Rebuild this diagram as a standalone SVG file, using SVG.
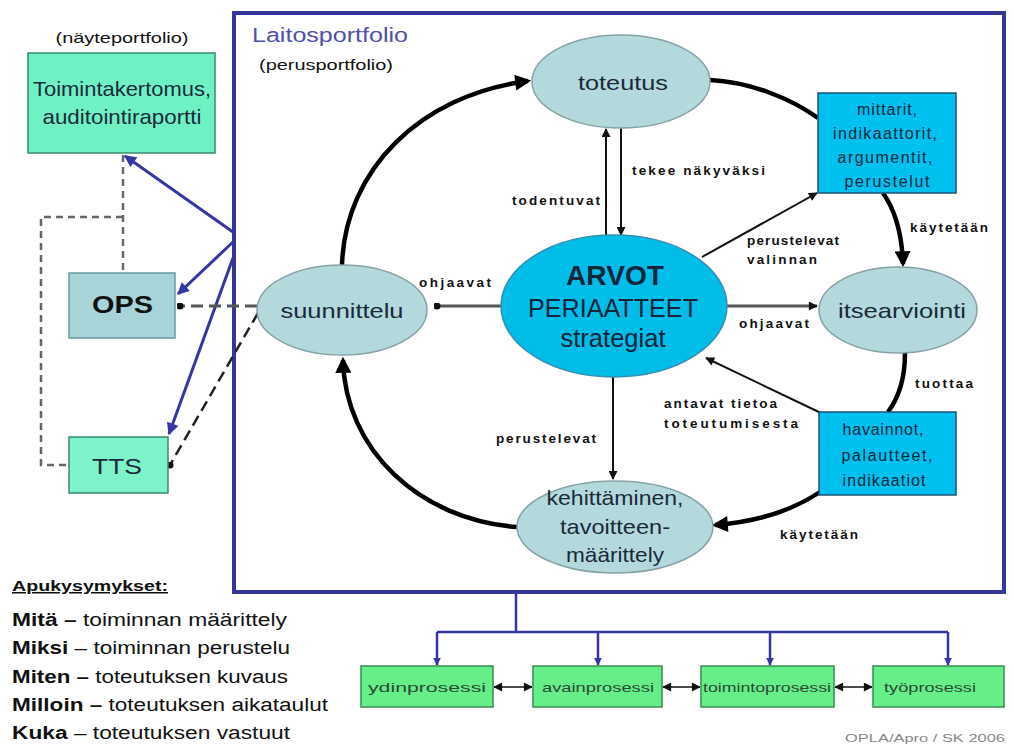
<svg xmlns="http://www.w3.org/2000/svg" width="1014" height="753" viewBox="0 0 1014 753">
<style>
text{font-family:"Liberation Sans",Arial,sans-serif;}
.lbl{font-size:13.5px;font-weight:bold;fill:#111;}
.node{font-size:21px;fill:#1a2a3a;text-anchor:middle;}
.box{font-size:16px;fill:#14283c;text-anchor:middle;}
.proc{font-size:13px;fill:#2a4a34;text-anchor:middle;}
.ell{fill:#b3d9dd;stroke:#86a2a6;stroke-width:1.5;}
.cyan{fill:#00c0f0;stroke:#1e5474;stroke-width:1.5;}
.aqua{fill:#6ef2c4;stroke:#3a8a70;stroke-width:1.5;}
.green{fill:#66ef88;stroke:#3a8a50;stroke-width:1.5;}
.thick{fill:none;stroke:#000;stroke-width:4.5;}
.thin{fill:none;stroke:#111;stroke-width:2;}
.blue{fill:none;stroke:#3535a5;stroke-width:3;}
.help{font-size:18px;fill:#111;}
</style>
<defs>
<marker id="ah" viewBox="0 0 10 10" refX="8" refY="5" markerWidth="18" markerHeight="16" markerUnits="userSpaceOnUse" orient="auto"><path d="M0,0 L10,5 L0,10 z" fill="#000"/></marker>
<marker id="as" viewBox="0 0 10 10" refX="9" refY="5" markerWidth="10" markerHeight="9" markerUnits="userSpaceOnUse" orient="auto-start-reverse"><path d="M0,0 L10,5 L0,10 z" fill="#111"/></marker>
<marker id="ab" viewBox="0 0 10 10" refX="9" refY="5" markerWidth="14" markerHeight="12" markerUnits="userSpaceOnUse" orient="auto"><path d="M0,0 L10,5 L0,10 z" fill="#3535a5"/></marker>
<marker id="abs" viewBox="0 0 10 10" refX="9" refY="5" markerWidth="8" markerHeight="8" markerUnits="userSpaceOnUse" orient="auto"><path d="M0,0 L10,5 L0,10 z" fill="#3535a5"/></marker>
<marker id="dot" viewBox="0 0 10 10" refX="5" refY="5" markerWidth="7" markerHeight="7" markerUnits="userSpaceOnUse"><circle cx="5" cy="5" r="5" fill="#111"/></marker>
</defs>
<rect width="1014" height="753" fill="#fff"/>

<!-- frame -->
<g id="frame">
<rect x="234" y="13" width="770" height="579" fill="none" stroke="#35359a" stroke-width="4"/>
<text x="252" y="42" font-size="20" fill="#5050a8" textLength="156" lengthAdjust="spacingAndGlyphs">Laitosportfolio</text>
<text x="259" y="70" font-size="15" fill="#111" textLength="134" lengthAdjust="spacingAndGlyphs">(perusportfolio)</text>
</g>

<!-- connectors -->
<g id="connectors">
<path class="thick" d="M342,265 C345,170 420,95 528,81" marker-end="url(#ah)"/>
<path class="thick" d="M710,80 C750,82 790,98 818,118"/>
<path class="thick" d="M883,193 C895,210 902,235 903,264" marker-end="url(#ah)"/>
<path class="thick" d="M905,353 C905,380 897,400 888,412"/>
<path class="thick" d="M820,492 C790,512 755,522 715,525" marker-end="url(#ah)"/>
<path class="thick" d="M517,527 C420,520 345,450 343,360" marker-end="url(#ah)"/>
<line class="thin" x1="606" y1="236" x2="606" y2="129" marker-end="url(#as)"/>
<line class="thin" x1="621" y1="128" x2="621" y2="235" marker-end="url(#as)"/>
<line class="thin" x1="702" y1="257" x2="817" y2="193" marker-end="url(#as)"/>
<line x1="501" y1="306" x2="437" y2="306" stroke="#555" stroke-width="3" marker-end="url(#dot)"/>
<line x1="727" y1="306" x2="817" y2="306" stroke="#555" stroke-width="3" marker-end="url(#as)"/>
<line class="thin" x1="821" y1="413" x2="706" y2="358" marker-end="url(#as)"/>
<line class="thin" x1="613" y1="377" x2="613" y2="479" marker-end="url(#as)"/>
<!-- left side -->
<line class="blue" x1="233" y1="232" x2="125" y2="156" marker-end="url(#ab)"/>
<line class="blue" x1="233" y1="242" x2="178" y2="294" marker-end="url(#ab)"/>
<line class="blue" x1="233" y1="258" x2="169" y2="434" marker-end="url(#ab)"/>
<path d="M123,155 L123,273 M123,217 L41,217 L41,465 L70,465" fill="none" stroke="#666" stroke-width="2.5" stroke-dasharray="7,5"/>
<line x1="257" y1="306" x2="180" y2="306" stroke="#555" stroke-width="3" stroke-dasharray="12,6" marker-end="url(#dot)"/>
<line x1="258" y1="313" x2="170" y2="465" stroke="#222" stroke-width="2.5" stroke-dasharray="11,6" marker-end="url(#dot)"/>
<!-- bottom tree -->
<path d="M516,593 L516,632 M437,632 L948,632" fill="none" stroke="#3535a5" stroke-width="2.5"/>
<line x1="437" y1="632" x2="437" y2="665" stroke="#3535a5" stroke-width="2.5" marker-end="url(#abs)"/>
<line x1="598" y1="632" x2="598" y2="665" stroke="#3535a5" stroke-width="2.5" marker-end="url(#abs)"/>
<line x1="770" y1="632" x2="770" y2="665" stroke="#3535a5" stroke-width="2.5" marker-end="url(#abs)"/>
<line x1="948" y1="632" x2="948" y2="665" stroke="#3535a5" stroke-width="2.5" marker-end="url(#abs)"/>
<line x1="494" y1="687" x2="532" y2="687" stroke="#111" stroke-width="1.5" marker-start="url(#as)" marker-end="url(#as)"/>
<line x1="663" y1="687" x2="700" y2="687" stroke="#111" stroke-width="1.5" marker-start="url(#as)" marker-end="url(#as)"/>
<line x1="835" y1="687" x2="872" y2="687" stroke="#111" stroke-width="1.5" marker-start="url(#as)" marker-end="url(#as)"/>
<!-- labels -->
<text class="lbl" x="512" y="205" textLength="88" lengthAdjust="spacing">todentuvat</text>
<text class="lbl" x="632" y="175" textLength="133" lengthAdjust="spacing">tekee näkyväksi</text>
<text class="lbl" x="747" y="245" textLength="92" lengthAdjust="spacing">perustelevat</text>
<text class="lbl" x="747" y="264" textLength="70" lengthAdjust="spacing">valinnan</text>
<text class="lbl" x="419" y="287" textLength="72" lengthAdjust="spacing">ohjaavat</text>
<text class="lbl" x="739" y="328" textLength="70" lengthAdjust="spacing">ohjaavat</text>
<text class="lbl" x="910" y="232" textLength="78" lengthAdjust="spacing">käytetään</text>
<text class="lbl" x="915" y="388" textLength="58" lengthAdjust="spacing">tuottaa</text>
<text class="lbl" x="664" y="408" textLength="113" lengthAdjust="spacing">antavat tietoa</text>
<text class="lbl" x="664" y="428" textLength="134" lengthAdjust="spacing">toteutumisesta</text>
<text class="lbl" x="496" y="443" textLength="100" lengthAdjust="spacing">perustelevat</text>
<text class="lbl" x="780" y="539" textLength="78" lengthAdjust="spacing">käytetään</text>
</g>

<g id="toimintakertomus">
<text x="122" y="43" font-size="15" fill="#111" text-anchor="middle" textLength="133" lengthAdjust="spacingAndGlyphs">(näyteportfolio)</text>
<rect class="aqua" x="28" y="53" width="187" height="100"/>
<text class="node" x="122" y="96" textLength="178" lengthAdjust="spacingAndGlyphs">Toimintakertomus,</text>
<text class="node" x="122" y="124" textLength="159" lengthAdjust="spacingAndGlyphs">auditointiraportti</text>
</g>
<g id="ops">
<rect x="69" y="273" width="106" height="65" fill="#a6d4d8" stroke="#6a9aa0" stroke-width="1.5"/>
<text x="122.5" y="313" font-size="24" font-weight="bold" fill="#111" text-anchor="middle" textLength="61" lengthAdjust="spacingAndGlyphs">OPS</text>
</g>
<g id="tts">
<rect x="69" y="437" width="99" height="56" fill="#7ef2c8" stroke="#3a8a70" stroke-width="1.5"/>
<text x="117" y="474" font-size="22" fill="#1a2a3a" text-anchor="middle" textLength="50" lengthAdjust="spacingAndGlyphs">TTS</text>
</g>

<g id="toteutus">
<ellipse class="ell" cx="621" cy="81.5" rx="89" ry="46.5"/>
<text class="node" x="623" y="90" textLength="90" lengthAdjust="spacingAndGlyphs">toteutus</text>
</g>
<g id="suunnittelu">
<ellipse class="ell" cx="342" cy="310" rx="85" ry="45"/>
<text class="node" x="342" y="318" textLength="123" lengthAdjust="spacingAndGlyphs">suunnittelu</text>
</g>
<g id="itsearviointi">
<ellipse class="ell" cx="898" cy="310" rx="79" ry="43"/>
<text class="node" x="902" y="318" textLength="128" lengthAdjust="spacingAndGlyphs">itsearviointi</text>
</g>
<g id="kehittaminen">
<ellipse class="ell" cx="615" cy="527" rx="98" ry="46"/>
<text class="node" x="615" y="505" font-size="19" textLength="137" lengthAdjust="spacingAndGlyphs">kehittäminen,</text>
<text class="node" x="615" y="534" font-size="19" textLength="110" lengthAdjust="spacingAndGlyphs">tavoitteen-</text>
<text class="node" x="615" y="562" font-size="19" textLength="98" lengthAdjust="spacingAndGlyphs">määrittely</text>
</g>
<g id="arvot">
<ellipse cx="614" cy="306" rx="113" ry="71" fill="#00bde8" stroke="#3390b0" stroke-width="1.5"/>
<text x="615" y="285" font-size="28" font-weight="bold" fill="#14243a" text-anchor="middle" textLength="98" lengthAdjust="spacingAndGlyphs">ARVOT</text>
<text x="613" y="317" font-size="25" fill="#14243a" text-anchor="middle" textLength="170" lengthAdjust="spacingAndGlyphs">PERIAATTEET</text>
<text x="613" y="347" font-size="25" fill="#14243a" text-anchor="middle" textLength="105" lengthAdjust="spacingAndGlyphs">strategiat</text>
</g>
<g id="mittarit">
<rect class="cyan" x="818" y="93" width="138" height="100"/>
<text class="box" x="887" y="115" textLength="60" lengthAdjust="spacing">mittarit,</text>
<text class="box" x="885" y="139" textLength="104" lengthAdjust="spacing">indikaattorit,</text>
<text class="box" x="885" y="163" textLength="95" lengthAdjust="spacing">argumentit,</text>
<text class="box" x="887" y="187" textLength="85" lengthAdjust="spacing">perustelut</text>
</g>
<g id="havainnot">
<rect class="cyan" x="819" y="412" width="137" height="83"/>
<text class="box" x="883" y="435" textLength="81" lengthAdjust="spacing">havainnot,</text>
<text class="box" x="887" y="461" textLength="91" lengthAdjust="spacing">palautteet,</text>
<text class="box" x="884" y="486" textLength="83" lengthAdjust="spacing">indikaatiot</text>
</g>

<g id="ydinprosessi">
<rect class="green" x="361" y="666" width="132" height="41"/>
<text class="proc" x="427" y="692" textLength="118" lengthAdjust="spacingAndGlyphs">ydinprosessi</text>
</g>
<g id="avainprosessi">
<rect class="green" x="533" y="666" width="129" height="41"/>
<text class="proc" x="598" y="692" textLength="112" lengthAdjust="spacingAndGlyphs">avainprosessi</text>
</g>
<g id="toimintoprosessi">
<rect class="green" x="701" y="666" width="133" height="41"/>
<text class="proc" x="767" y="692" textLength="128" lengthAdjust="spacingAndGlyphs">toimintoprosessi</text>
</g>
<g id="tyoprosessi">
<rect class="green" x="873" y="666" width="131" height="41"/>
<text class="proc" x="930" y="692" textLength="92" lengthAdjust="spacingAndGlyphs">työprosessi</text>
</g>

<g id="apukysymykset">
<text x="12" y="591" font-size="15" font-weight="bold" fill="#111" text-decoration="underline" textLength="156" lengthAdjust="spacingAndGlyphs">Apukysymykset:</text>
<text class="help" x="12" y="626" textLength="275" lengthAdjust="spacingAndGlyphs"><tspan font-weight="bold">Mitä –</tspan> toiminnan määrittely</text>
<text class="help" x="12" y="654" textLength="278" lengthAdjust="spacingAndGlyphs"><tspan font-weight="bold">Miksi</tspan> – toiminnan perustelu</text>
<text class="help" x="12" y="683" textLength="276" lengthAdjust="spacingAndGlyphs"><tspan font-weight="bold">Miten –</tspan> toteutuksen kuvaus</text>
<text class="help" x="12" y="711" textLength="316" lengthAdjust="spacingAndGlyphs"><tspan font-weight="bold">Milloin –</tspan> toteutuksen aikataulut</text>
<text class="help" x="12" y="739" textLength="278" lengthAdjust="spacingAndGlyphs"><tspan font-weight="bold">Kuka</tspan> – toteutuksen vastuut</text>
</g>
<text x="1005" y="742" font-size="11" fill="#888" text-anchor="end" textLength="160" lengthAdjust="spacingAndGlyphs">OPLA/Apro / SK 2006</text>
</svg>
